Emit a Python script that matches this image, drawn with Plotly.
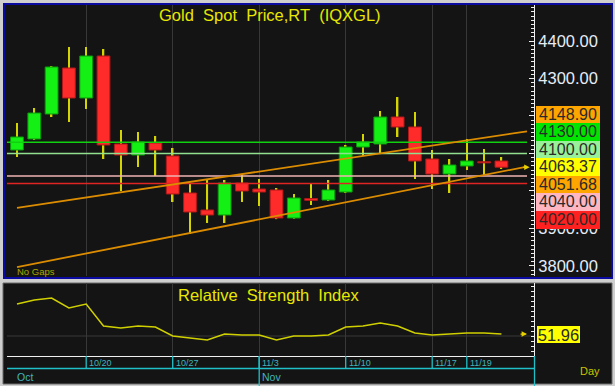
import plotly.graph_objects as go

# ---------------- data ----------------
dates = ['10/14', '10/15', '10/16', '10/17', '10/20', '10/21', '10/22', '10/23', '10/24',
         '10/27', '10/28', '10/29', '10/30', '10/31', '11/3', '11/4', '11/5', '11/6', '11/7',
         '11/10', '11/11', '11/12', '11/13', '11/14', '11/17', '11/18', '11/19', '11/20', '11/21']
opens = [4109.3, 4138.7, 4205.3, 4328.0, 4248.0, 4360.0, 4125.3, 4096.0, 4128.0,
         4093.3, 3994.7, 3949.3, 3936.0, 4021.3, 4005.3, 4002.7, 3928.0, 3980.0, 3976.0,
         3997.3, 4117.3, 4125.3, 4197.3, 4170.7, 4085.3, 4045.3, 4066.7, 4078.0, 4080.0]
highs = [4181.3, 4221.3, 4333.3, 4384.0, 4384.0, 4378.7, 4162.7, 4157.3, 4146.7,
         4114.7, 4021.3, 4029.3, 4029.3, 4042.7, 4032.0, 4008.0, 3992.0, 4018.7, 4029.3,
         4122.7, 4152.0, 4213.3, 4250.7, 4210.7, 4109.3, 4085.3, 4138.7, 4112.0, 4090.7]
lows = [4090.7, 4136.0, 4197.3, 4184.0, 4218.7, 4085.3, 4000.0, 4064.0, 4040.0,
        3970.7, 3885.3, 3914.7, 3914.7, 3970.7, 3960.0, 3925.0, 3926.0, 3962.7, 3973.3,
        3994.7, 4093.3, 4101.3, 4144.0, 4032.0, 4005.3, 3994.7, 4056.0, 4042.7, 4058.7]
closes = [4144.0, 4208.0, 4330.7, 4248.0, 4360.0, 4122.7, 4096.0, 4130.7, 4109.3,
          3992.0, 3944.0, 3936.0, 4021.3, 4000.0, 3997.3, 3928.0, 3981.3, 3975.0, 4002.7,
          4117.3, 4130.7, 4197.3, 4170.7, 4080.0, 4045.3, 4069.3, 4080.0, 4075.0, 4063.37]
rsi = [82, 86, 88, 78, 82, 60, 58, 60, 59,
       50, 48, 46, 52, 51, 51, 46, 50, 50, 51,
       59, 60, 63, 60, 53, 51, 52, 53, 53, 51.96]

grid_dates = ['10/20', '10/27', '11/3', '11/10', '11/17', '11/19']
month_labels = ['Oct', 'Nov']
month_dates = ['10/14', '11/3']
price_ticks = [3800, 3900, 4000, 4100, 4200, 4300, 4400]

level_values = [4130.00, 4100.00, 4040.00, 4020.00]
level_colors = ['#10d010', '#90e090', '#f0b4b4', '#e02424']

trend_upper = [3955.0, 4148.90]   # value at first bar, value at last bar
trend_lower = [3797.0, 4051.68]

price_labels = [4148.90, 4130.00, 4100.00, 4063.37, 4051.68, 4040.00, 4020.00]
price_label_colors = ['#ffa500', '#00e400', '#98f098', '#ffff00', '#ffa500', '#ffb6c1', '#ff2020']
rsi_last = 51.96

# ---------------- layout constants ----------------
W, H = 615, 386
PLOT_L, PLOT_R = 7, 534
MAIN_T, MAIN_B = 5, 276
RSI_T, RSI_B = 283, 356
X_RANGE = [-0.578, 29.884]
Y_RANGE = [3773.3, 4496.0]
RSI_RANGE = [30, 103]
X_END = 29.48
FONT = "Liberation Sans, Arial, sans-serif"
BG = '#141414'
GRID = '#383838'
CYAN = '#20c0c8'
NB2 = '\u00a0\u00a0'


def px(x):
    return x / W


def py(y):
    return 1 - y / H


idx = list(range(len(dates)))
pos = {d: i for i, d in enumerate(dates)}

fig = go.Figure()

# wicks
fig.add_trace(go.Bar(x=idx, y=[h - l for h, l in zip(highs, lows)], base=lows, width=0.09,
                     marker=dict(color='#d4d400', line=dict(width=0)),
                     xaxis='x', yaxis='y', showlegend=False))
# bodies
up = [c >= o for o, c in zip(opens, closes)]
fig.add_trace(go.Bar(x=idx, y=[max(abs(c - o), 1.5) for o, c in zip(opens, closes)],
                     base=[min(o, c) for o, c in zip(opens, closes)], width=0.74,
                     marker=dict(color=['#14f014' if u else '#ff2a2a' for u in up],
                                 line=dict(color=['#0a9a0a' if u else '#b01818' for u in up], width=1)),
                     xaxis='x', yaxis='y', showlegend=False))

# horizontal levels
for v, c in zip(level_values, level_colors):
    fig.add_trace(go.Scatter(x=[X_RANGE[0], X_END], y=[v, v], mode='lines',
                             line=dict(color=c, width=1.6), xaxis='x', yaxis='y', showlegend=False))

# trend lines
n_last = len(dates) - 1
for t in (trend_upper, trend_lower):
    slope = (t[1] - t[0]) / n_last
    fig.add_trace(go.Scatter(x=[0, X_END], y=[t[0], t[0] + slope * X_END], mode='lines',
                             line=dict(color='#dc8c00', width=1.8), xaxis='x', yaxis='y', showlegend=False))

# RSI
fig.add_trace(go.Scatter(x=idx, y=rsi, mode='lines', line=dict(color='#d0d000', width=1.5),
                         xaxis='x2', yaxis='y2', showlegend=False))

shapes = []
# panels
shapes.append(dict(type='rect', xref='paper', yref='paper', x0=px(4), x1=px(612), y0=py(4), y1=py(278),
                   fillcolor=BG, line=dict(color='#0a0aa0', width=2), layer='below'))
shapes.append(dict(type='rect', xref='paper', yref='paper', x0=px(3), x1=px(612), y0=py(283), y1=py(384),
                   fillcolor=BG, line=dict(color='#6a6a6a', width=1), layer='below'))
# RSI 50 line
shapes.append(dict(type='line', xref='x2 domain', yref='y2', x0=0, x1=1, y0=50, y1=50,
                   line=dict(color=GRID, width=1), layer='below'))
# date axis lines
shapes.append(dict(type='line', xref='paper', yref='paper', x0=px(PLOT_L), x1=px(PLOT_R + 1),
                   y0=py(368.5), y1=py(368.5), line=dict(color=CYAN, width=1.3)))
shapes.append(dict(type='line', xref='paper', yref='paper', x0=px(534.5), x1=px(534.5),
                   y0=py(RSI_B), y1=py(386), line=dict(color=CYAN, width=1.3)))
for d in grid_dates:
    shapes.append(dict(type='line', xref='x2', yref='paper', x0=pos[d], x1=pos[d],
                       y0=py(RSI_B), y1=py(368.5), line=dict(color=CYAN, width=1.3)))
for d in month_dates[1:]:
    shapes.append(dict(type='line', xref='x2', yref='paper', x0=pos[d], x1=pos[d],
                       y0=py(RSI_B), y1=py(386), line=dict(color=CYAN, width=1.3)))

ann = []
ann.append(dict(text=NB2.join(['Gold', 'Spot', 'Price,RT', '(IQXGL)']), xref='paper', yref='paper',
                x=px(270), y=py(14.5), xanchor='center', yanchor='middle', showarrow=False,
                font=dict(family=FONT, size=16.5, color='#e8e800')))
ann.append(dict(text=NB2.join(['Relative', 'Strength', 'Index']), xref='paper', yref='paper',
                x=px(268.5), y=py(295), xanchor='center', yanchor='middle', showarrow=False,
                font=dict(family=FONT, size=16.5, color='#e8e800')))
ann.append(dict(text='No Gaps', xref='paper', yref='paper', x=px(15), y=py(271),
                xanchor='left', yanchor='middle', showarrow=False,
                font=dict(family=FONT, size=9.5, color='#a8a800')))
ann.append(dict(text='Day', xref='paper', yref='paper', x=px(578), y=py(371),
                xanchor='left', yanchor='middle', showarrow=False,
                font=dict(family=FONT, size=11, color='#c8c400')))
for d in grid_dates:
    ann.append(dict(text=d, xref='x2', yref='paper', x=pos[d], xshift=1, y=py(362.5),
                    xanchor='left', yanchor='middle', showarrow=False,
                    font=dict(family=FONT, size=9, color='#40b4bc')))
for m, d in zip(month_labels, month_dates):
    ann.append(dict(text=m, xref='x2', yref='paper', x=pos[d], xshift=(-2 if d == dates[0] else 1), y=py(376.5),
                    xanchor='left', yanchor='middle', showarrow=False,
                    font=dict(family=FONT, size=10.5, color='#40b4bc')))

# price labels stacked around last price
ppp = (MAIN_B - MAIN_T) / (Y_RANGE[1] - Y_RANGE[0])
BOX_H = 17.5
order = sorted(range(len(price_labels)), key=lambda i: -price_labels[i])
last_i = min(range(len(price_labels)), key=lambda i: abs(price_labels[i] - closes[-1]))
anchor_rank = order.index(last_i)
box_price = BOX_H / ppp
stack_top = closes[-1] + (anchor_rank + 0.5) * box_price
stack_bot = closes[-1] - (len(order) - 1 - anchor_rank + 0.5) * box_price
for rank, i in enumerate(order):
    yv = closes[-1] + (anchor_rank - rank) * box_price
    ann.append(dict(text=f'{price_labels[i]:.2f}', xref='paper', yref='y', x=px(535.5), y=yv,
                    xanchor='left', yanchor='middle', showarrow=False, width=64, height=17.5,
                    borderpad=0, borderwidth=0, bgcolor=price_label_colors[i],
                    font=dict(family=FONT, size=16, color='#2a2a2a')))
ann.append(dict(text=f'{rsi_last:.2f}', xref='paper', yref='y2', x=px(537), y=rsi_last,
                xanchor='left', yanchor='middle', showarrow=False, width=43, height=17,
                borderpad=0, borderwidth=0, bgcolor='#ffff00',
                font=dict(family=FONT, size=16.5, color='#2a2a2a')))
# last value arrows
ann.append(dict(text='', xref='x', yref='y', x=X_END + 0.15, y=closes[-1], ax=-8, ay=0, showarrow=True,
                arrowhead=2, arrowsize=0.9, arrowwidth=1.2, arrowcolor='#e8d000'))
ann.append(dict(text='', xref='x2', yref='y2', x=X_END, y=rsi_last, ax=-8, ay=0, showarrow=True,
                arrowhead=2, arrowsize=0.9, arrowwidth=1.2, arrowcolor='#e8d000'))

# tick labels hidden where fully covered by the label stack (as in the reference)
margin_price = 5 / ppp
tick_text = ['' if stack_bot + margin_price < v < stack_top - margin_price else f'{v:.2f}' for v in price_ticks]

xdom = [px(PLOT_L), px(PLOT_R)]
grid_idx = [pos[d] for d in grid_dates]
axis_common = dict(showticklabels=False, ticks='', zeroline=False, fixedrange=True)

fig.update_layout(
    width=W, height=H, margin=dict(l=0, r=0, t=0, b=0),
    paper_bgcolor='#cfcfcf', plot_bgcolor=BG,
    barmode='overlay', hovermode=False, showlegend=False,
    shapes=shapes, annotations=ann,
    xaxis=dict(domain=xdom, range=X_RANGE, anchor='y', tickmode='array', tickvals=grid_idx,
               showgrid=True, gridcolor=GRID, gridwidth=1, showline=False, **axis_common),
    xaxis2=dict(domain=xdom, range=X_RANGE, anchor='y2', tickmode='array', tickvals=grid_idx,
                showgrid=True, gridcolor=GRID, gridwidth=1, showline=True, linecolor='#f0f0f0',
                linewidth=1, **axis_common),
    yaxis=dict(domain=[py(MAIN_B), py(MAIN_T)], range=Y_RANGE, anchor='x', side='right',
               tickmode='array', tickvals=price_ticks, ticktext=tick_text,
               ticks='inside', ticklen=5, tickcolor='#f0f0f0',
               showline=True, linecolor='#f0f0f0', linewidth=1, showgrid=False, zeroline=False,
               tickfont=dict(family=FONT, size=16.5, color='#e4ecf8'), fixedrange=True,
               minor=dict(dtick=100 / 9, tick0=0, ticks='inside', ticklen=3, tickcolor='#f0f0f0',
                          showgrid=False)),
    yaxis3=dict(overlaying='y', anchor='x', side='left', range=Y_RANGE, dtick=200, tick0=0,
                showgrid=True, gridcolor=GRID, showticklabels=False, ticks='inside', ticklen=4,
                tickcolor='#f0f0f0', showline=True, linecolor='#f0f0f0', zeroline=False, fixedrange=True,
                minor=dict(dtick=12.5, tick0=0, ticks='inside', ticklen=3, tickcolor='#f0f0f0',
                           showgrid=False)),
    yaxis2=dict(domain=[py(RSI_B), py(RSI_T)], range=RSI_RANGE, anchor='x2', side='right',
                dtick=5, tick0=0, ticks='inside', ticklen=3, tickcolor='#f0f0f0', showgrid=False,
                showline=True, linecolor='#f0f0f0', showticklabels=False, zeroline=False, fixedrange=True),
    yaxis4=dict(overlaying='y2', anchor='x2', side='left', range=RSI_RANGE,
                dtick=5, tick0=0, ticks='inside', ticklen=3, tickcolor='#f0f0f0', showgrid=False,
                showline=True, linecolor='#f0f0f0', showticklabels=False, zeroline=False, fixedrange=True),
)

fig.write_html("out.html", config={'displayModeBar': False})
